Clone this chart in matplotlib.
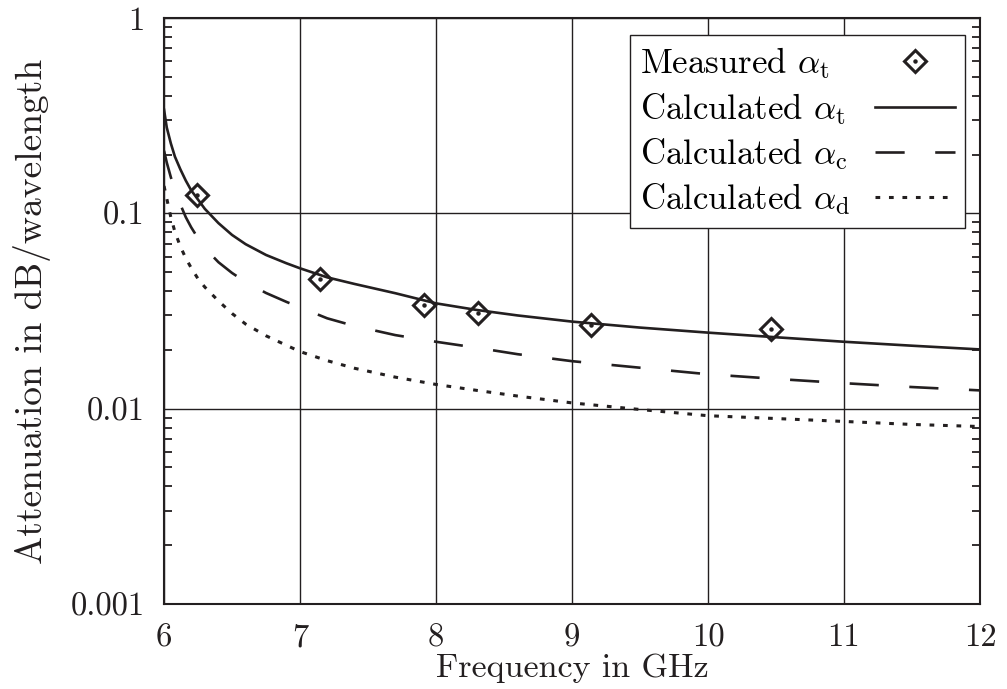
import matplotlib
matplotlib.use('Agg')
import matplotlib.pyplot as plt
from matplotlib.ticker import LogLocator, NullFormatter, NullLocator
from matplotlib.legend_handler import HandlerTuple

# Measured total attenuation (diamond markers)
freq_meas = [6.24, 7.15, 7.91, 8.31, 9.14, 10.46]
alpha_t_meas = [0.124, 0.0460, 0.0339, 0.0310, 0.0268, 0.0255]

# Calculated curves
freq_calc = [6.0, 6.02, 6.05, 6.08, 6.12, 6.16, 6.2, 6.25, 6.3, 6.4, 6.5,
             6.6, 6.75, 6.9, 7.0, 7.2, 7.4, 7.7, 8.0, 8.3, 8.6, 9.0, 9.5,
             10.0, 10.5, 11.0, 11.5, 12.0]
alpha_t_calc = [0.339, 0.275, 0.228, 0.195, 0.168, 0.147, 0.131, 0.1175,
                0.1054, 0.0891, 0.0775, 0.0695, 0.0612, 0.0555, 0.0523,
                0.047, 0.0435, 0.039, 0.0346, 0.032, 0.030, 0.0279, 0.026,
                0.0245, 0.0232, 0.022, 0.021, 0.0201]
alpha_c_calc = [0.209, 0.182, 0.153, 0.132, 0.111, 0.0955, 0.0847, 0.0745,
                0.0664, 0.0562, 0.0495, 0.0445, 0.0391, 0.0352, 0.0330,
                0.0290, 0.0265, 0.0238, 0.0220, 0.0205, 0.0190, 0.0175,
                0.0162, 0.0150, 0.0142, 0.0135, 0.0129, 0.0124]
alpha_d_calc = [0.138, 0.119, 0.0955, 0.0804, 0.0676, 0.0589, 0.0525,
                0.0462, 0.0419, 0.0356, 0.0307, 0.0271, 0.0236, 0.0211,
                0.0196, 0.0176, 0.0161, 0.0145, 0.0133, 0.0124, 0.0116,
                0.0107, 0.0099, 0.0092, 0.0089, 0.0086, 0.0083, 0.0081]

x_ticks = [6, 7, 8, 9, 10, 11, 12]
y_ticks = [0.001, 0.01, 0.1, 1]
y_tick_labels = ['0.001', '0.01', '0.1', '1']
legend_labels = [r'Measured $\alpha_\mathrm{t}$',
                 r'Calculated $\alpha_\mathrm{t}$',
                 r'Calculated $\alpha_\mathrm{c}$',
                 r'Calculated $\alpha_\mathrm{d}$']

ink = '#231f20'
legend_size = 25
text_pad = 0.7

plt.rcParams['font.family'] = 'serif'
plt.rcParams['font.serif'] = ['cmr10']
plt.rcParams['mathtext.fontset'] = 'cm'
plt.rcParams['axes.formatter.use_mathtext'] = True
plt.rcParams['lines.scale_dashes'] = False
plt.rcParams['font.size'] = 23.5

fig = plt.figure(figsize=(10.07, 6.89), dpi=100)
ax = fig.add_axes([0.1629, 0.1234, 0.8103, 0.8505])

# grid first so the curves sit on top
ax.set_yscale('log')
ax.set_xlim(6, 12)
ax.set_ylim(0.001, 1)
ax.grid(True, which='major', color=ink, linewidth=1.0)

l_t, = ax.plot(freq_calc, alpha_t_calc, color=ink, linewidth=1.9)
l_c, = ax.plot(freq_calc, alpha_c_calc, color=ink, linewidth=1.9,
               dashes=(21, 22))
l_d, = ax.plot(freq_calc, alpha_d_calc, color=ink, linewidth=2.2,
               dashes=(3.4, 6.3))
m_box, = ax.plot(freq_meas, alpha_t_meas, linestyle='none', marker='D',
                 markersize=11.5, markerfacecolor='none',
                 markeredgecolor=ink, markeredgewidth=2.2)
m_dot, = ax.plot(freq_meas, alpha_t_meas, linestyle='none', marker='o',
                 markersize=2.2, color=ink)

ax.set_xticks(x_ticks)
ax.set_xticklabels([str(t) for t in x_ticks])
ax.xaxis.set_minor_locator(NullLocator())
ax.set_yticks(y_ticks)
ax.set_yticklabels(y_tick_labels)
ax.yaxis.set_minor_locator(LogLocator(base=10, subs=range(2, 10)))
ax.yaxis.set_minor_formatter(NullFormatter())
ax.tick_params(which='both', direction='in', colors=ink, labelcolor=ink,
               right=True, top=True)
ax.tick_params(which='major', length=0, pad=14)
ax.tick_params(which='minor', length=6, width=1.3)
for sp in ax.spines.values():
    sp.set_linewidth(1.5)
    sp.set_color(ink)

ax.set_xlabel('Frequency in GHz', color=ink, fontsize=24.5, labelpad=1)
ax.set_ylabel('Attenuation in dB/wavelength', color=ink, fontsize=27,
              labelpad=14)

leg = ax.legend([(m_box, m_dot), l_t, l_c, l_d], legend_labels,
                handler_map={tuple: HandlerTuple(ndivide=1)},
                loc='upper right', bbox_to_anchor=(0.9816, 0.971),
                borderaxespad=0, markerfirst=False, fancybox=False,
                framealpha=1, edgecolor=ink, handlelength=2.3,
                labelspacing=0.27, borderpad=0.3, handletextpad=text_pad,
                fontsize=legend_size)
leg.get_frame().set_linewidth(1.0)

# markerfirst=False right-aligns the rows; left-align the words instead
# and widen the gap before each sample so the samples stay in one column
fig.canvas.draw()
renderer = fig.canvas.get_renderer()
widths = [t.get_window_extent(renderer).width * 72 / fig.dpi
          for t in leg.get_texts()]
column = leg._legend_handle_box.get_children()[0]
column.align = 'left'
for row, w in zip(column.get_children(), widths):
    row.sep = text_pad * legend_size + max(widths) - w

fig.savefig('out.png', dpi=100)
